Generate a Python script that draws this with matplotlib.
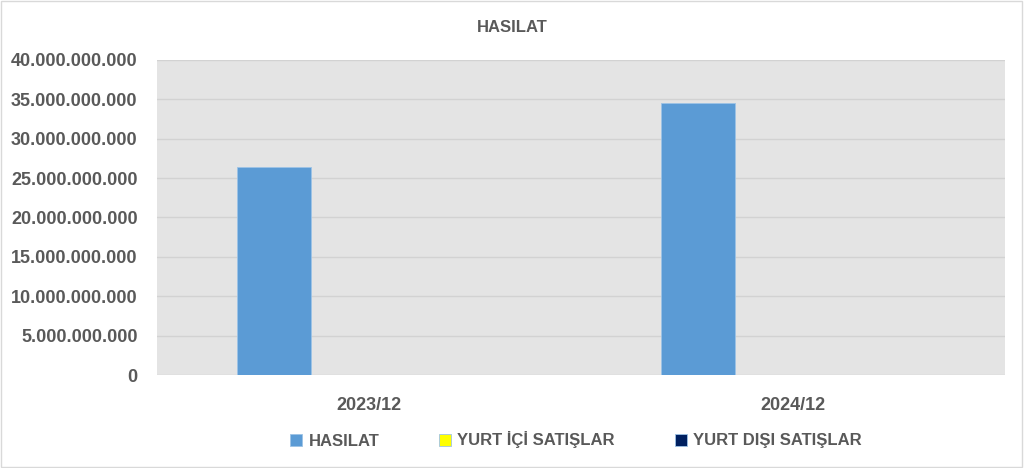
import numpy as np
import matplotlib.pyplot as plt
from matplotlib.ticker import FuncFormatter

# data
periods = ['2023/12', '2024/12']
series = ['HASILAT', 'YURT İÇİ SATIŞLAR', 'YURT DIŞI SATIŞLAR']
hasilat = [26.45e9, 34.55e9]
yurt_ici = [0, 0]
yurt_disi = [0, 0]
colors = ['#5B9BD5', '#FFFF00', '#002060']

plt.rcParams['font.family'] = ['Liberation Sans', 'DejaVu Sans']
text_col = '#595959'

fig = plt.figure(figsize=(10.24, 4.68), dpi=100)
ax = fig.add_axes([157 / 1024, 1 - 375 / 468, 848 / 1024, 315 / 468])
ax.set_facecolor('#E4E4E4')

x = np.arange(len(periods))
w = 0.175
step = 0.224
for i, (name, vals) in enumerate(zip(series, [hasilat, yurt_ici, yurt_disi])):
    ax.bar(x + (i - 1) * step, vals, w, color=colors[i], label=name,
           edgecolor='#9DC3E6', linewidth=0.6, zorder=3)

ax.set_xlim(-0.5, 1.5)
ax.set_ylim(0, 40e9)
ax.set_yticks(np.arange(0, 40e9 + 1, 5e9))
ax.yaxis.set_major_formatter(FuncFormatter(lambda v, p: f'{int(v):,}'.replace(',', '.')))
ax.grid(axis='y', color='#D2D2D2', linewidth=1, zorder=0)
ax.set_xticks(x)
ax.set_xticklabels(periods)
for s in ax.spines.values():
    s.set_visible(False)
ax.tick_params(length=0, colors=text_col, labelsize=13)
ax.tick_params(axis='y', pad=14)
ax.tick_params(axis='x', pad=16)
for lab in ax.get_xticklabels() + ax.get_yticklabels():
    lab.set_fontweight('bold')

fig.text(0.5, 1 - 27 / 468, 'HASILAT', ha='center', va='center',
         fontsize=12, fontweight='bold', color=text_col)

leg = fig.legend(loc='center', bbox_to_anchor=(576 / 1024, 1 - 440 / 468), ncol=3,
                 frameon=False, handlelength=0.7, handleheight=0.7,
                 columnspacing=3.6, handletextpad=0.4,
                 prop={'size': 12, 'weight': 'bold'})
for t in leg.get_texts():
    t.set_color(text_col)

fig.patches.append(plt.Rectangle((0.001, 0.002), 0.997, 0.996, transform=fig.transFigure,
                                 fill=False, edgecolor='#D9D9D9', linewidth=1))

plt.savefig('out.png', dpi=100)
